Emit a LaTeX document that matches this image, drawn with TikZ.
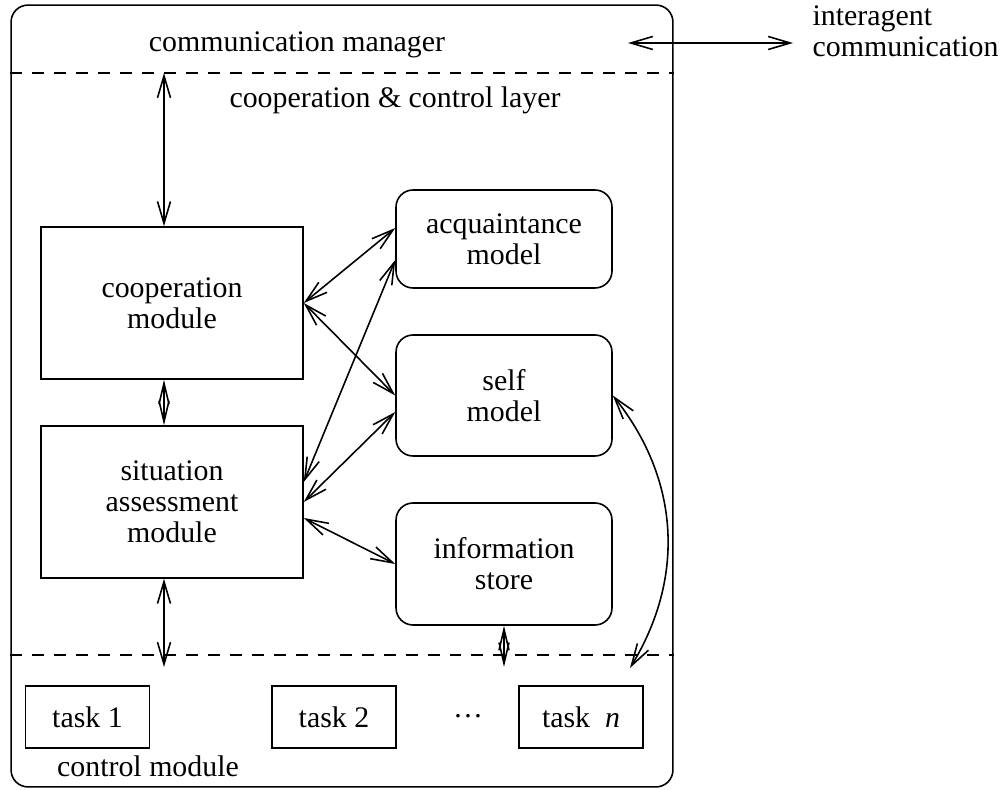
\documentclass[tikz,border=0pt]{standalone}
\usepackage{fontspec}
\setmainfont{Liberation Serif}
\usetikzlibrary{arrows.meta}

\begin{document}
\begin{tikzpicture}[x=0.02cm,y=-0.02cm,line width=0.9pt,
    font=\fontsize{17}{17.6}\selectfont,
    >={Straight Barb[length=4.4mm,width=2.6mm]},
    module/.style={draw,align=center,minimum width=5.24cm,minimum height=3.04cm},
    model/.style={draw,align=center,rounded corners=0.34cm,minimum width=4.32cm},
    task/.style={draw,minimum width=2.48cm,minimum height=1.24cm},
    layerline/.style={dash pattern=on 6.8pt off 5.7pt,line width=0.8pt},
    twin/.style={<->,>={Straight Barb[length=4.2mm,width=2mm]}}]
    \useasboundingbox (0,0) rectangle (1000,790);

    % agent frame
    \node (agent) [draw,rounded corners=0.34cm,minimum width=13.24cm,minimum height=15.64cm] at (342,396) {};
    \coordinate (upper) at (164,73);
    \coordinate (lower) at (164,667);
    \coordinate (tnin) at (630,668);
    \coordinate (ia) at (628,43);
    \coordinate (ib) at (793,43);
    \draw [layerline] (agent.west |- upper) -- (agent.east |- upper);
    \draw [layerline] (agent.west |- 0,655) -- (agent.east |- 0,655);

    \node (cmgr) at (297,45) {communication manager};
    \node (ccl) at (395,100) {cooperation \& control layer};
    \node (ic) [align=left,anchor=west] at (806,31) {interagent\\communication};
    \node (ctrl) at (148,766) {control module};

    \begin{scope}
    \node (coop) [module] at (172,303) {cooperation\\module};
    \node (sit) [module] at (172,502) {situation\\assessment\\module};
    \node (acq) [model,minimum height=1.96cm] at (504,239) {acquaintance\\model};
    \node (self) [model,minimum height=2.42cm] at (504,395.5) {self\\model};
    \node (info) [model,minimum height=2.44cm] at (504,564) {information\\store};
    \node (t1) [task] at (87.5,717) {task 1};
    \node (t2) [task] at (334,717) {task 2};
    \node (dots) at (468,716) {\dots};
    \node (tn) [task] at (581,717) {task \ \textit{n}};
    \end{scope}

    \begin{scope}[every edge/.style={draw,line width=0.9pt}]
    \path [<->] (ia) edge (ib);
    \path [<->] (upper) edge (upper |- coop.north);
    \path [twin] (upper |- coop.south) edge (upper |- sit.north);
    \path [<->] (upper |- sit.south) edge (lower);
    \path [twin] (info.south) edge (info.south |- lower);
    \path [<->] (coop.east) edge ([yshift=0.22cm]acq.west);
    \path [<->] (coop.east) edge (self.west);
    \path [<->] ([yshift=0.4cm]sit.east) edge ([yshift=-0.42cm]acq.west);
    \path [<->] (sit.east) edge ([yshift=-0.33cm]self.west);
    \path [<->] ([yshift=-0.32cm]sit.east) edge (info.west);
    \path [<->] (self.east) edge [bend left=35] (tnin);
    \end{scope}
\end{tikzpicture}
\end{document}
